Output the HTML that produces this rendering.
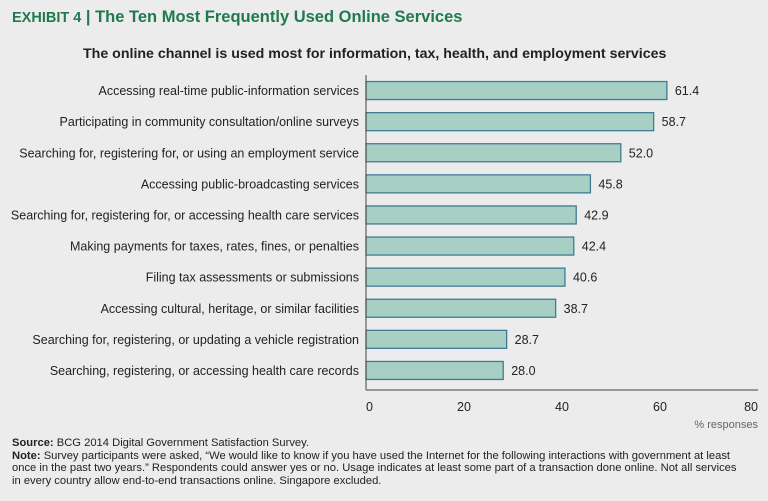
<!DOCTYPE html>
<html><head><meta charset="utf-8"><style>
body{margin:0;background:#ececec;font-family:"Liberation Sans",sans-serif;}
#wrap{position:relative;width:768px;height:501px;overflow:hidden;background:#ececec;}
.t{position:absolute;white-space:nowrap;}
</style></head><body>
<div id="wrap">
<div class="t" style="left:12px;top:8px;font-size:16.5px;font-weight:bold;color:#1f7a4f;"><span style="font-size:14.5px">EXHIBIT 4</span> | The Ten Most Frequently Used Online Services</div>
<div class="t" style="left:83px;top:46px;font-size:14.2px;font-weight:bold;color:#222;">The online channel is used most for information, tax, health, and employment services</div>
<svg id="chart" width="768" height="501" style="position:absolute;left:0;top:0"></svg>
<div class="t" style="left:12px;top:437px;font-size:11.2px;line-height:12.7px;color:#222;"><b>Source:</b> BCG 2014 Digital Government Satisfaction Survey.<br><b>Note:</b> Survey participants were asked, “We would like to know if you have used the Internet for the following interactions with government at least<br>once in the past two years.” Respondents could answer yes or no. Usage indicates at least some part of a transaction done online. Not all services<br>in every country allow end-to-end transactions online. Singapore excluded.</div>
</div>
<script>
const categories=["Accessing real-time public-information services","Participating in community consultation/online surveys","Searching for, registering for, or using an employment service","Accessing public-broadcasting services","Searching for, registering for, or accessing health care services","Making payments for taxes, rates, fines, or penalties","Filing tax assessments or submissions","Accessing cultural, heritage, or similar facilities","Searching for, registering, or updating a vehicle registration","Searching, registering, or accessing health care records"];
const values=[61.4,58.7,52.0,45.8,42.9,42.4,40.6,38.7,28.7,28.0];
const ticks=[0,20,40,60,80];
const NS="http://www.w3.org/2000/svg";
const svg=document.getElementById('chart');
const x0=366,x1=758,yTop=75,step=31.1;
const xs=v=>x0+(v-ticks[0])/(ticks[ticks.length-1]-ticks[0])*(x1-x0);
const yc=i=>yTop+step*(i+0.5);
function mk(t,a){const e=document.createElementNS(NS,t);for(const k in a)e.setAttribute(k,a[k]);svg.appendChild(e);return e;}
categories.forEach((c,i)=>{
 const r=mk('rect',{x:xs(0),y:yc(i)-9,width:xs(values[i])-xs(0),height:18,fill:'#a8cfc3',stroke:'#3f7c93','stroke-width':1.3});
 
 
 const l=mk('text',{x:359,y:yc(i)+4.5,'text-anchor':'end','font-size':12.5,fill:'#222','font-family':'Liberation Sans'});
 l.textContent=c;
 
 
 const v=mk('text',{x:xs(values[i])+8,y:yc(i)+4.5,'font-size':12.5,fill:'#222','font-family':'Liberation Sans'});
 v.textContent=values[i].toFixed(1);
 
 
});
const ya=mk('line',{x1:x0,y1:yTop,x2:x0,y2:390,stroke:'#444','stroke-width':1});


const xa=mk('line',{x1:x0,y1:390,x2:x1,y2:390,stroke:'#444','stroke-width':1});


ticks.forEach((t,i)=>{
 const tx=mk('text',{x:xs(t),y:411,'text-anchor':i==0?'start':(i==ticks.length-1?'end':'middle'),'font-size':12.5,fill:'#222','font-family':'Liberation Sans'});
 tx.textContent=t;
 
 
});
const at=mk('text',{x:x1,y:428,'text-anchor':'end','font-size':11,fill:'#666','font-family':'Liberation Sans'});
at.textContent='% responses';


</script>
</body></html>
